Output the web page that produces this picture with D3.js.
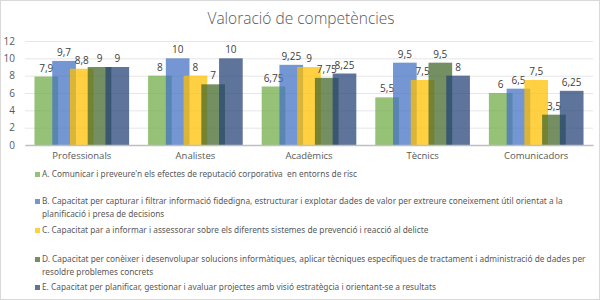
<!DOCTYPE html>
<html>
<head>
<meta charset="utf-8">
<script src="https://cdn.jsdelivr.net/npm/d3@7"></script>
<style>
  body { margin: 0; background: #fff; }
  svg { display: block; font-family: "Open Sans", sans-serif; }
  .legend text { white-space: pre; }
</style>
</head>
<body>
<svg id="chart" width="600" height="300"></svg>
<script>
const categories = ["Professionals", "Analistes", "Acadèmics", "Tècnics", "Comunicadors"];
const seriesA = [7.9, 8, 6.75, 5.5, 6];
const seriesB = [9.7, 10, 9.25, 9.5, 6.5];
const seriesC = [8.8, 8, 9, 7.5, 7.5];
const seriesD = [9, 7, 7.75, 9.5, 3.5];
const seriesE = [9, 10, 8.25, 8, 6.25];
const yTicks = [0, 2, 4, 6, 8, 10, 12];
const legendLines = [
  ["A. Comunicar i preveure'n els efectes de reputació corporativa  en entorns de risc"],
  ["B. Capacitat per capturar i filtrar informació fidedigna, estructurar i explotar dades de valor per extreure coneixement útil orientat a la",
   "planificació i presa de decisions"],
  ["C. Capacitat par a informar i assessorar sobre els diferents sistemes de prevenció i reacció al delicte"],
  ["D. Capacitat per conèixer i desenvolupar solucions informàtiques, aplicar tècniques específiques de tractament i administració de dades per",
   "resoldre problemes concrets"],
  ["E. Capacitat per planificar, gestionar i avaluar projectes amb visió estratègcia i orientant-se a resultats"]
];
const colors = ["#70AD47", "#4472C4", "#FFC000", "#43682B", "#264478"];

const series = [seriesA, seriesB, seriesC, seriesD, seriesE];
const fmt = v => String(v).replace(".", ",");

const svg = d3.select("#chart");
const plot = { left: 25, right: 593, top: 41, bottom: 145 };

// frame like the sheet cell border
svg.append("rect").attr("x", 0.5).attr("y", 0.5).attr("width", 599).attr("height", 299)
  .attr("fill", "#fff").attr("stroke", "#D9D9D9");

svg.append("text")
  .attr("x", 301).attr("y", 24)
  .attr("text-anchor", "middle")
  .attr("font-size", 15.5)
  .attr("font-weight", 300)
  .attr("fill", "#595959")
  .text("Valoració de competències");

const x = d3.scaleBand().domain(categories).range([plot.left, plot.right]).paddingInner(0.167).paddingOuter(0.0835);
const y = d3.scaleLinear().domain([0, 12]).range([plot.bottom, plot.top]);
const barW = x.bandwidth() / 4; // 25% overlap between series
const xs = d3.scaleLinear().domain([0, series.length - 1]).range([0, x.bandwidth() - barW]);

// grid
svg.append("g")
  .attr("transform", `translate(${plot.left},0)`)
  .call(d3.axisLeft(y).tickValues(yTicks).tickSize(-(plot.right - plot.left)).tickFormat(""))
  .call(g => g.select(".domain").remove())
  .call(g => g.selectAll("line").attr("stroke", "#E6E6E6"));

// y labels
svg.append("g")
  .attr("transform", `translate(${plot.left - 7},0)`)
  .call(d3.axisLeft(y).tickValues(yTicks).tickSize(0))
  .call(g => g.select(".domain").remove())
  .call(g => g.selectAll("text").attr("font-size", 10).attr("fill", "#595959").attr("font-family", "Open Sans"));

// bars
series.forEach((vals, i) => {
  const g = svg.append("g").attr("class", `series-${i}`);
  g.selectAll("rect").data(vals).enter().append("rect")
    .attr("x", (d, j) => x(categories[j]) + xs(i))
    .attr("y", d => y(d))
    .attr("width", barW)
    .attr("height", d => y(0) - y(d))
    .attr("fill", colors[i])
    .attr("fill-opacity", 0.74);
  g.selectAll("text").data(vals).enter().append("text")
    .attr("x", (d, j) => x(categories[j]) + xs(i) + barW / 2)
    .attr("y", d => y(d) - 5)
    .attr("text-anchor", "middle")
    .attr("font-size", 10)
    .attr("fill", "#404040")
    .text(fmt);
});

// x axis
svg.append("g")
  .attr("transform", `translate(0,${plot.bottom})`)
  .call(d3.axisBottom(x).tickSize(0).tickPadding(7))
  .call(g => g.select(".domain").attr("stroke", "#BFBFBF").attr("stroke-width", 1.5))
  .call(g => g.selectAll("text").attr("font-size", 9.5).attr("fill", "#595959").attr("font-family", "Open Sans"));

// legend
const legendY = d3.scaleOrdinal().domain(d3.range(5)).range([177, 204, 233, 262, 290]);
const leg = svg.append("g").attr("class", "legend").attr("font-family", "'Liberation Sans Narrow', 'Noto Sans', sans-serif");
legendLines.forEach((lines, i) => {
  const gy = legendY(i);
  leg.append("rect").attr("x", 35).attr("y", gy - 5).attr("width", 5).attr("height", 5)
    .attr("fill", colors[i]).attr("fill-opacity", 0.74);
  const t = leg.append("text").attr("x", 42).attr("y", gy).attr("font-size", 8.3).attr("fill", "#595959");
  lines.forEach((ln, k) => {
    t.append("tspan").attr("x", 42).attr("dy", k === 0 ? 0 : 12.5).text(ln);
  });
});
</script>
</body>
</html>
